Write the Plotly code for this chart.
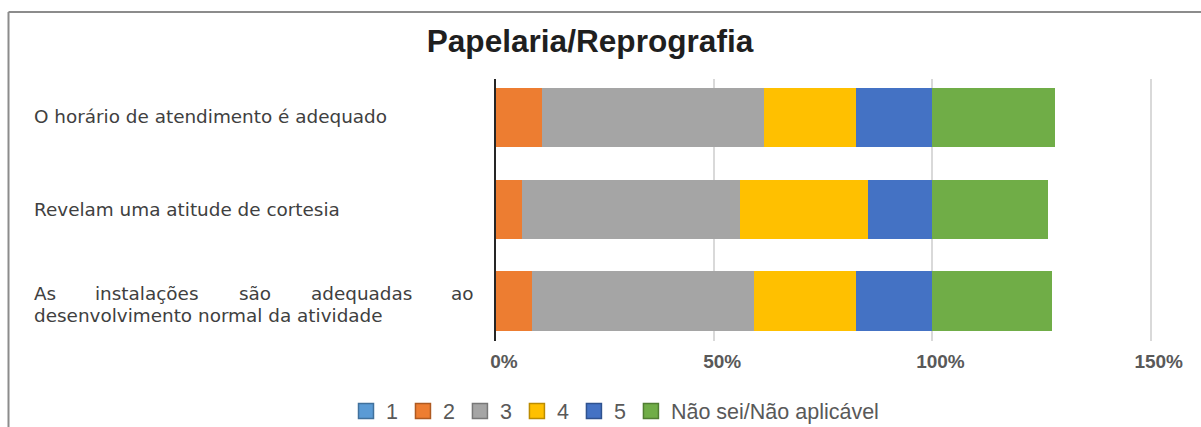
import plotly.graph_objects as go

# ---- data ----
categories = [
    "O horário de atendimento é adequado",
    "Revelam uma atitude de cortesia",
    "As instalações são adequadas ao desenvolvimento normal da atividade",
]
series_names = ["1", "2", "3", "4", "5", "Não sei/Não aplicável"]
s1 = [0.0, 0.0, 0.0]
s2 = [10.6, 5.9, 8.2]
s3 = [50.8, 49.9, 50.9]
s4 = [21.0, 29.4, 23.3]
s5 = [17.6, 14.8, 17.6]
s6 = [28.1, 26.5, 27.3]
x_ticks = [0, 50, 100, 150]
x_tick_labels = ["0%", "50%", "100%", "150%"]
title_text = "Papelaria/Reprografia"

colors = ["#5B9BD5", "#ED7D31", "#A5A5A5", "#FFC000", "#4472C4", "#70AD47"]
border_colors = ["#41719C", "#AE5A21", "#787878", "#BC8C00", "#2F528F", "#507E32"]

# ---- layout geometry (pixels) ----
W, H = 1201, 427
L, R, T, B = 496, 49, 79, 86
PW, PH = W - L - R, H - T - B


def px(x):
    return (x - L) / PW


def py(y):
    return (H - B - y) / PH


fig = go.Figure()
for name, vals, col in zip(series_names, [s1, s2, s3, s4, s5, s6], colors):
    fig.add_trace(go.Bar(
        y=categories, x=vals, name=name, orientation="h", showlegend=False,
        marker=dict(color=col, line=dict(width=0)),
    ))
# legend entries (square swatches with border, like the reference)
for name, col, bcol in zip(series_names, colors, border_colors):
    fig.add_trace(go.Scatter(
        x=[None], y=[None], mode="markers", name=name, showlegend=True,
        marker=dict(symbol="square", size=15, color=col, line=dict(color=bcol, width=1.5)),
    ))

label_font = dict(family="DejaVu Sans", size=18.4, color="#404040")
ann = []
ann.append(dict(text=categories[0], xref="paper", yref="y", x=px(32), y=categories[0],
                xanchor="left", yanchor="middle", showarrow=False, font=label_font, yshift=1))
ann.append(dict(text=categories[1], xref="paper", yref="y", x=px(32), y=categories[1],
                xanchor="left", yanchor="middle", showarrow=False, font=label_font, yshift=0))
# justified first line of third label
words = ["As", "instalações", "são", "adequadas", "ao"]
word_x = [32, 93, 237, 309, 449]
for w, wx in zip(words, word_x):
    ann.append(dict(text=w, xref="paper", yref="y", x=px(wx), y=categories[2],
                    xanchor="left", yanchor="middle", showarrow=False, font=label_font, yshift=8))
ann.append(dict(text="desenvolvimento normal da atividade", xref="paper", yref="y", x=px(32),
                y=categories[2], xanchor="left", yanchor="middle", showarrow=False,
                font=label_font, yshift=-14))

shapes = [
    dict(type="line", xref="paper", yref="paper", x0=px(8.5), x1=px(W + 2), y0=py(12), y1=py(12),
         line=dict(color="#8c8c8c", width=2)),
    dict(type="line", xref="paper", yref="paper", x0=px(8.5), x1=px(8.5), y0=py(12), y1=py(H + 2),
         line=dict(color="#8c8c8c", width=2)),
]

fig.update_layout(
    width=W, height=H,
    margin=dict(l=L, r=R, t=T, b=B, autoexpand=False),
    paper_bgcolor="white", plot_bgcolor="white",
    barmode="stack", bargap=0.356,
    title=dict(text=title_text, xref="container", yref="container",
               x=590 / W, y=1 - 41 / H, xanchor="center", yanchor="middle",
               font=dict(family="Liberation Sans", size=31.6, color="#1f1f1f", weight="bold")),
    xaxis=dict(range=[0, 150.3], tickmode="array", tickvals=x_ticks, ticktext=x_tick_labels,
               showgrid=True, gridcolor="#d9d9d9", gridwidth=1.5, zeroline=False, showline=False,
               ticks="", ticklabelshift=8, ticklabelstandoff=7,
               tickfont=dict(family="Liberation Sans", size=19, color="#595959", weight="bold"),
               fixedrange=True),
    yaxis=dict(categoryorder="array", categoryarray=categories, range=[2.436, -0.42],
               showticklabels=False, showgrid=False, zeroline=False, showline=True,
               linecolor="#262626", linewidth=2, ticks="", fixedrange=True),
    legend=dict(orientation="h", x=px(615), y=py(411), xanchor="center", yanchor="middle",
                font=dict(family="Liberation Sans", size=21.5, color="#595959"),
                itemwidth=30, bgcolor="rgba(0,0,0,0)", traceorder="normal"),
    annotations=ann,
    shapes=shapes,
    showlegend=True,
)

fig.write_html("out.html", config={"displayModeBar": False},
               post_script="document.body.style.margin='0';document.body.style.overflow='hidden';")
